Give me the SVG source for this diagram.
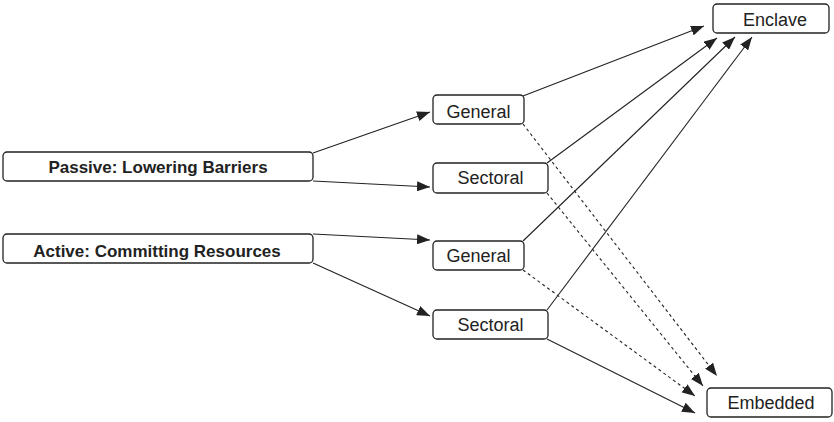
<svg xmlns="http://www.w3.org/2000/svg" width="834" height="422" viewBox="0 0 834 422">
<style>
.box{fill:#fff;stroke:#222;stroke-width:1.3}
.t{font-family:"Liberation Sans",Arial,sans-serif;font-size:18px;fill:#222;text-anchor:middle}
.b{font-weight:bold;font-size:17px}
.e{fill:none;stroke:#222;stroke-width:1.1}
.d{stroke-dasharray:3,3}
</style>
<defs>
<marker id="ah" markerUnits="userSpaceOnUse" markerWidth="14" markerHeight="10" refX="13" refY="5" orient="auto">
<path d="M0,0 L13,5 L0,10 Z" fill="#222"/>
</marker>
</defs>
<rect width="834" height="422" fill="#fff"/>
<g id="edges">
<line class="e" x1="313" y1="153" x2="430" y2="112" marker-end="url(#ah)"/>
<line class="e" x1="313" y1="181" x2="430" y2="187" marker-end="url(#ah)"/>
<line class="e" x1="313" y1="234" x2="430" y2="240" marker-end="url(#ah)"/>
<line class="e" x1="313" y1="263" x2="430" y2="316" marker-end="url(#ah)"/>
<line class="e" x1="523" y1="96" x2="704" y2="26" marker-end="url(#ah)"/>
<line class="e" x1="547" y1="163" x2="717" y2="38" marker-end="url(#ah)"/>
<line class="e" x1="523" y1="241" x2="735" y2="37" marker-end="url(#ah)"/>
<line class="e" x1="547" y1="310" x2="752" y2="37" marker-end="url(#ah)"/>
<line class="e d" x1="523" y1="124" x2="717" y2="376" marker-end="url(#ah)"/>
<line class="e d" x1="547" y1="193" x2="703" y2="386" marker-end="url(#ah)"/>
<line class="e d" x1="523" y1="270" x2="695" y2="396" marker-end="url(#ah)"/>
<line class="e" x1="547" y1="339" x2="695" y2="413" marker-end="url(#ah)"/>
</g>
<g id="passive"><rect class="box" x="3" y="152" width="310" height="29" rx="4"/><text class="t b" x="158" y="172.5">Passive: Lowering Barriers</text></g>
<g id="active"><rect class="box" x="3" y="234" width="310" height="29" rx="4"/><text class="t b" x="157" y="256.5">Active: Committing Resources</text></g>
<g id="general1"><rect class="box" x="433" y="95" width="91" height="29" rx="4"/><text class="t" x="478.5" y="117.5">General</text></g>
<g id="sectoral1"><rect class="box" x="433" y="163" width="115" height="30" rx="4"/><text class="t" x="490.5" y="184">Sectoral</text></g>
<g id="general2"><rect class="box" x="433" y="241" width="91" height="29" rx="4"/><text class="t" x="478.5" y="262">General</text></g>
<g id="sectoral2"><rect class="box" x="433" y="310" width="115" height="29" rx="4"/><text class="t" x="490.5" y="331">Sectoral</text></g>
<g id="enclave"><rect class="box" x="713" y="4" width="116" height="29" rx="4"/><text class="t" x="775" y="26">Enclave</text></g>
<g id="embedded"><rect class="box" x="707" y="388" width="125" height="29" rx="4"/><text class="t" x="771" y="409">Embedded</text></g>
</svg>
